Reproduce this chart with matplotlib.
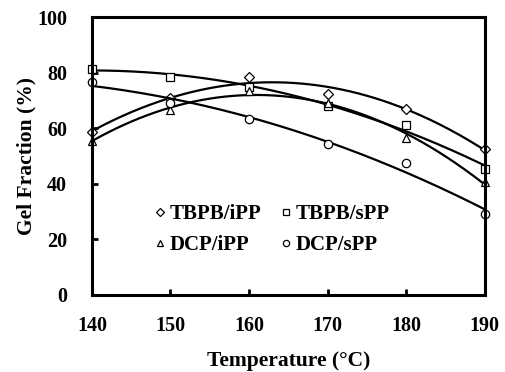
import matplotlib.pyplot as plt
import numpy as np

plt.rcParams['font.family'] = 'Liberation Serif'
plt.rcParams['font.weight'] = 'bold'

# Gel fraction measured at each curing temperature
temperature = [140, 150, 160, 170, 180, 190]
tbpb_ipp = [58.5, 71, 78.5, 72.5, 67, 52.5]
tbpb_spp = [81.5, 78.5, 75, 68, 61, 45.5]
dcp_ipp = [55.5, 66.5, 73.5, 69, 56.5, 40.5]
dcp_spp = [76.5, 69, 63.5, 54.5, 47.5, 29]

series = [
    ("TBPB/iPP", tbpb_ipp, "D", 5),
    ("TBPB/sPP", tbpb_spp, "s", 6),
    ("DCP/iPP", dcp_ipp, "^", 6),
    ("DCP/sPP", dcp_spp, "o", 6),
]

fig = plt.figure(figsize=(5.05, 3.72), dpi=100)
ax = fig.add_axes([0.182, 0.207, 0.778, 0.747])

x = np.array(temperature, dtype=float)
xs = np.linspace(140, 190, 200)
handles = {}
for name, vals, mk, ms in series:
    # second order trend line through each data set
    coef = np.polyfit(x, vals, 2)
    ax.plot(xs, np.polyval(coef, xs), color='black', lw=1.6)
    h, = ax.plot(x, vals, linestyle='none', marker=mk, ms=ms, mfc='white',
                 mec='black', mew=0.9, label=name, clip_on=False)
    handles[name] = h

ax.set_xlim(140, 190)
ax.set_ylim(0, 100)
ax.set_xticks(range(140, 191, 10))
ax.set_yticks(range(0, 101, 20))
ax.tick_params(direction='in', length=4, width=2, labelsize=14.5)
ax.tick_params(axis='x', pad=15)
ax.tick_params(axis='y', pad=18)
for s in ax.spines.values():
    s.set_linewidth(2.2)

ax.set_xlabel("Temperature (\u00b0C)", fontsize=15.5, fontweight='bold', labelpad=11)
ax.set_ylabel("Gel Fraction (%)", fontsize=15.5, fontweight='bold', labelpad=0)

# legend is filled column-wise, so order the handles to read row by row
order = ["TBPB/iPP", "DCP/iPP", "TBPB/sPP", "DCP/sPP"]
ax.legend([handles[n] for n in order], order, ncol=2, frameon=False,
          loc='lower left', bbox_to_anchor=(0.11, 0.075),
          fontsize=15, handletextpad=0.15, columnspacing=0.9, labelspacing=0.55,
          handlelength=0.6, markerscale=0.75)

fig.savefig("out.png", dpi=100)
